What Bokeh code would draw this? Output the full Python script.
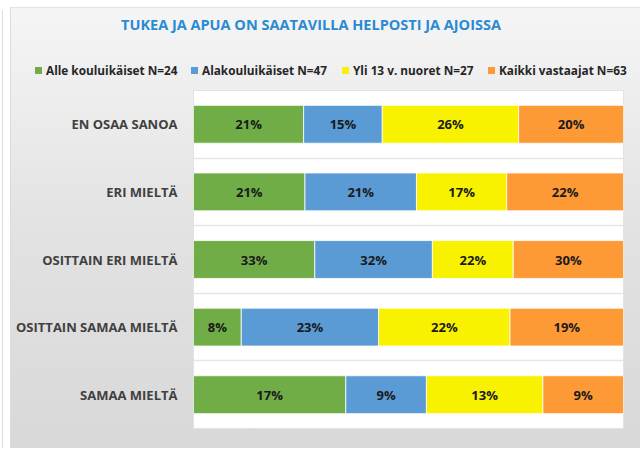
from bokeh.plotting import figure
from bokeh.layouts import column
from bokeh.models import ColumnDataSource, Range1d, FixedTicker, Div
from bokeh.core.properties import value
from bokeh.embed import file_html
from bokeh.resources import INLINE

categories = ["EN OSAA SANOA", "ERI MIELTÄ", "OSITTAIN ERI MIELTÄ", "OSITTAIN SAMAA MIELTÄ", "SAMAA MIELTÄ"]
series_names = ["Alle kouluikäiset N=24", "Alakouluikäiset N=47", "Yli 13 v. nuoret N=27", "Kaikki vastaajat N=63"]
alle = [21, 21, 33, 8, 17]
alakoulu = [15, 21, 32, 23, 9]
yli13 = [26, 17, 22, 22, 13]
kaikki = [20, 22, 30, 19, 9]
colors = ["#70ad47", "#5b9bd5", "#f8f200", "#fd9a36"]
title_text = "TUKEA JA APUA ON SAATAVILLA HELPOSTI JA AJOISSA"

series = [alle, alakoulu, yli13, kaikki]
keys = ["s0", "s1", "s2", "s3"]
n = len(categories)
ypos = [n - 0.5 - i for i in range(n)]
totals = [sum(s[i] for s in series) for i in range(n)]

data = {"y": ypos}
for k, s in zip(keys, series):
    data[k] = [v / t for v, t in zip(s, totals)]
source = ColumnDataSource(data)

font = "Open Sans"
W = 640
TOTAL_H = 448
HEAD_H = 89
MAIN_H = TOTAL_H - HEAD_H

# ---------- header (title + legend) ----------
legend_x = [35, 191, 342, 488]
legend_html = "".join(
    f'<div style="position:absolute;left:{x}px;top:61px;white-space:nowrap;line-height:18px;">'
    f'<span style="display:inline-block;width:7px;height:7px;background:{c};margin-right:4px;'
    f'vertical-align:1px;"></span>{nm}</div>'
    for x, c, nm in zip(legend_x, colors, series_names))
header = Div(width=W, height=HEAD_H, text=(
    f'<div style="position:relative;width:{W}px;height:{HEAD_H}px;font-family:\'{font}\';font-weight:bold;">'
    f'<div style="position:absolute;left:0;width:622px;top:15px;text-align:center;'
    f'font-size:14.5px;line-height:20px;color:#2a8ad2;">{title_text}</div>'
    f'<div style="font-size:11.8px;color:#262626;">{legend_html}</div>'
    f'</div>'))
header.styles = {"margin": "0", "padding": "0"}

# ---------- main chart ----------
p = figure(width=W, height=MAIN_H, output_backend="svg", toolbar_location=None,
           x_range=Range1d(0, 1), y_range=Range1d(0, n),
           min_border_left=193, min_border_right=17, min_border_top=1, min_border_bottom=20)
p.border_fill_alpha = 0
p.background_fill_color = "white"
p.outline_line_color = "#e3e3e3"

p.hbar_stack(keys, y="y", height=0.56, color=colors, source=source,
             line_color="white", line_width=0.8)

lx, ly, lt = [], [], []
for i in range(n):
    cum = 0.0
    for k, s in zip(keys, series):
        w = data[k][i]
        lx.append(cum + w / 2)
        ly.append(ypos[i])
        lt.append(f"{s[i]}%")
        cum += w
p.text(x=lx, y=ly, text=lt, text_align="center", text_baseline="middle",
       text_font=value(font), text_font_size="13px", text_font_style="bold",
       text_color="#1a1a1a")

p.xaxis.visible = False
p.yaxis.ticker = FixedTicker(ticks=ypos)
p.yaxis.major_label_overrides = {y: c for y, c in zip(ypos, categories)}
p.yaxis.axis_line_color = None
p.yaxis.major_tick_line_color = None
p.yaxis.minor_tick_line_color = None
p.yaxis.major_label_standoff = 10
p.yaxis.major_label_text_font = font
p.yaxis.major_label_text_font_size = "13px"
p.yaxis.major_label_text_font_style = "bold"
p.yaxis.major_label_text_color = "#404040"

p.xgrid.visible = False
p.ygrid.ticker = FixedTicker(ticks=list(range(1, n)))
p.ygrid.grid_line_color = "#e6e6e6"
p.ygrid.grid_line_width = 1.5

layout = column(header, p, spacing=0)
layout.styles = {
    "background": ("linear-gradient(#dedede,#dedede) 2px 10px / 1px 100% no-repeat, "
                   "linear-gradient(#dcdcdc,#dcdcdc) 10px 7px / 1px 100% no-repeat, "
                   "linear-gradient(#e4e4e4,#e4e4e4) 10px 7px / 100% 1px no-repeat, "
                   "linear-gradient(#f5f5f5, #e2e2e2 50%, #d8d8d8) 10px 7px / 100% 100% no-repeat, "
                   "white")
}

open("out.html", "w").write(file_html(layout, INLINE))
